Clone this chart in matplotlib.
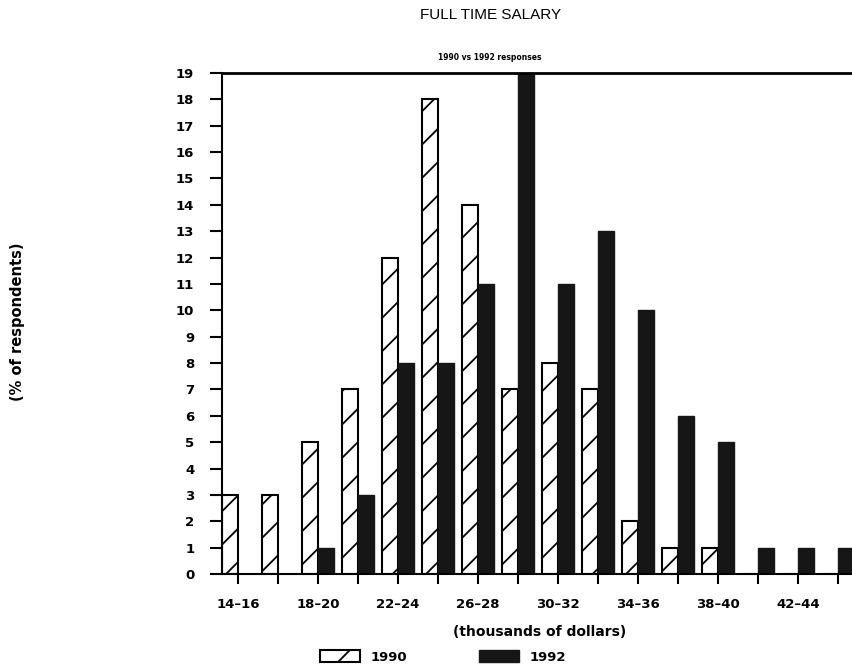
import numpy as np
import matplotlib
matplotlib.use('Agg')
import matplotlib.pyplot as plt

# Salary ranges (thousands of dollars)
categories = ['14–16', '16–18', '18–20', '20–22', '22–24', '24–26', '26–28', '28–30',
              '30–32', '32–34', '34–36', '36–38', '38–40', '40–42', '42–44', '44–46']
# percent of respondents
pct_1990 = [3, 3, 5, 7, 12, 18, 14, 7, 8, 7, 2, 1, 1, 0, 0, 0]
pct_1992 = [0, 0, 1, 3, 8, 8, 11, 19, 11, 13, 10, 6, 5, 1, 1, 1]

plt.rcParams['hatch.linewidth'] = 1.3

fig = plt.figure(figsize=(8.53, 6.67), dpi=100)
ax = fig.add_axes([222/853, 93/667, 1 - 222/853, 501/667])

x = np.arange(len(categories))
w = 0.4
b90 = ax.bar(x - w/2, pct_1990, w, facecolor='white', edgecolor='black',
             hatch='/', linewidth=1.5, label='1990')
b92 = ax.bar(x + w/2, pct_1992, w, facecolor='#161616', edgecolor='#161616',
             linewidth=1.0, label='1992')

ax.set_xlim(-0.4, 15.375)
ax.set_ylim(0, 19)
ax.set_yticks(range(0, 20))
ax.set_xticks(x)
ax.set_xticklabels([c if i % 2 == 0 else '' for i, c in enumerate(categories)])

ax.tick_params(axis='y', direction='out', length=9, width=1.5, pad=11, labelsize=9.5)
ax.tick_params(axis='x', direction='out', length=7, width=1.5, pad=10, labelsize=9.5)
for lab in ax.get_xticklabels() + ax.get_yticklabels():
    lab.set_fontweight('bold')

ax.spines['right'].set_visible(False)
ax.spines['top'].set_linewidth(2.0)
ax.spines['left'].set_linewidth(1.5)
ax.spines['bottom'].set_linewidth(1.5)

fig.text(491/853, 1 - 15/667, 'FULL TIME SALARY', ha='center', va='center',
         fontsize=11, family='Liberation Sans')
fig.text(490/853, 1 - 58/667, '1990 vs 1992 responses', ha='center', va='center',
         fontsize=5.5, fontweight='bold')
fig.text(18/853, 1 - 322/667, '(% of respondents)', rotation=90, ha='center', va='center',
         fontsize=10.5, fontweight='bold')
fig.text(540/853, 1 - 632/667, '(thousands of dollars)', ha='center', va='center',
         fontsize=10, fontweight='bold')

leg = fig.legend(handles=[b90, b92], loc='center', bbox_to_anchor=(443/853, 1 - 657/667),
                 ncol=2, frameon=False, handlelength=3.0, handleheight=1.0,
                 columnspacing=5.5, handletextpad=0.8, prop={'size': 9.5, 'weight': 'bold'})

fig.savefig('out.png', dpi=100)
